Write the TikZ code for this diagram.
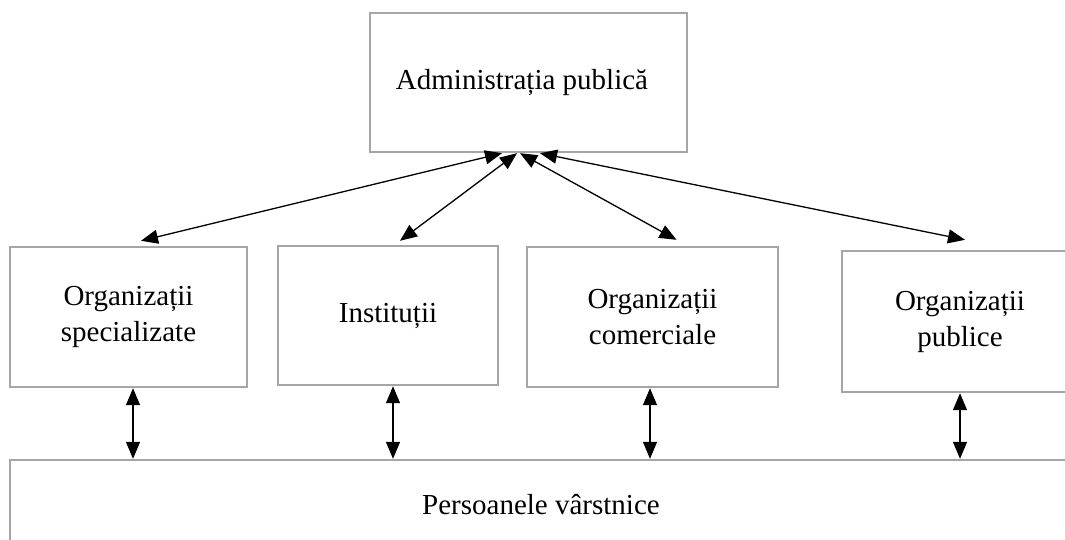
\documentclass[tikz,border=0pt]{standalone}
\usepackage{fontspec}
\setmainfont{Liberation Serif}
\usetikzlibrary{arrows.meta}
\definecolor{boxgray}{RGB}{166,166,166}
\begin{document}
\begin{tikzpicture}[x=1pt,y=-1pt,
  box/.style={draw=boxgray, line width=2.4pt, fill=white, align=center,
    inner sep=0pt, font=\fontsize{29}{36}\selectfont},
  link/.style={line width=1.3pt, {Triangle[length=17pt,width=14pt]}-{Triangle[length=17pt,width=14pt]}}]
\useasboundingbox (0,0) rectangle (1065,539);
\clip (0,0) rectangle (1065,539);
\fill[white] (0,0) rectangle (1065,539);
\node[box, minimum width=317pt, minimum height=139pt] (adm) at (528.5,82.5) {\hspace*{-13pt}Administrația publică};
\node[box, minimum width=237pt, minimum height=140pt] (spec) at (128.5,317) {Organizații\\specializate};
\node[box, minimum width=220pt, minimum height=139pt] (inst) at (388,315.5) {Instituții};
\node[box, minimum width=251pt, minimum height=140pt] (com) at (652.5,317) {Organizații\\comerciale};
\node[box, minimum width=236pt, minimum height=141pt] (pub) at (960,321.5) {Organizații\\publice};
\node[box, minimum width=1062pt, minimum height=90pt] (pers) at (541,505) {Persoanele vârstnice};
% diagonal links
\draw[link] ([xshift=-26.5pt]adm.south) -- ([xshift=12.5pt,yshift=5pt]spec.north);
\draw[link] ([xshift=-11.5pt]adm.south) -- ([xshift=12pt,yshift=4pt]inst.north);
\draw[link] ([xshift=-8.5pt]adm.south) -- ([xshift=24pt,yshift=6pt]com.north);
\draw[link] ([xshift=11.5pt]adm.south) -- ([xshift=5pt,yshift=10pt]pub.north);
% vertical links
\draw[link] ([xshift=4.5pt]spec.south) -- ([xshift=4.5pt]spec.south |- pers.north);
\draw[link] ([xshift=5pt]inst.south) -- ([xshift=5pt]inst.south |- pers.north);
\draw[link] ([xshift=-2.5pt]com.south) -- ([xshift=-2.5pt]com.south |- pers.north);
\draw[link] (pub.south) -- (pub.south |- pers.north);
\end{tikzpicture}
\end{document}
